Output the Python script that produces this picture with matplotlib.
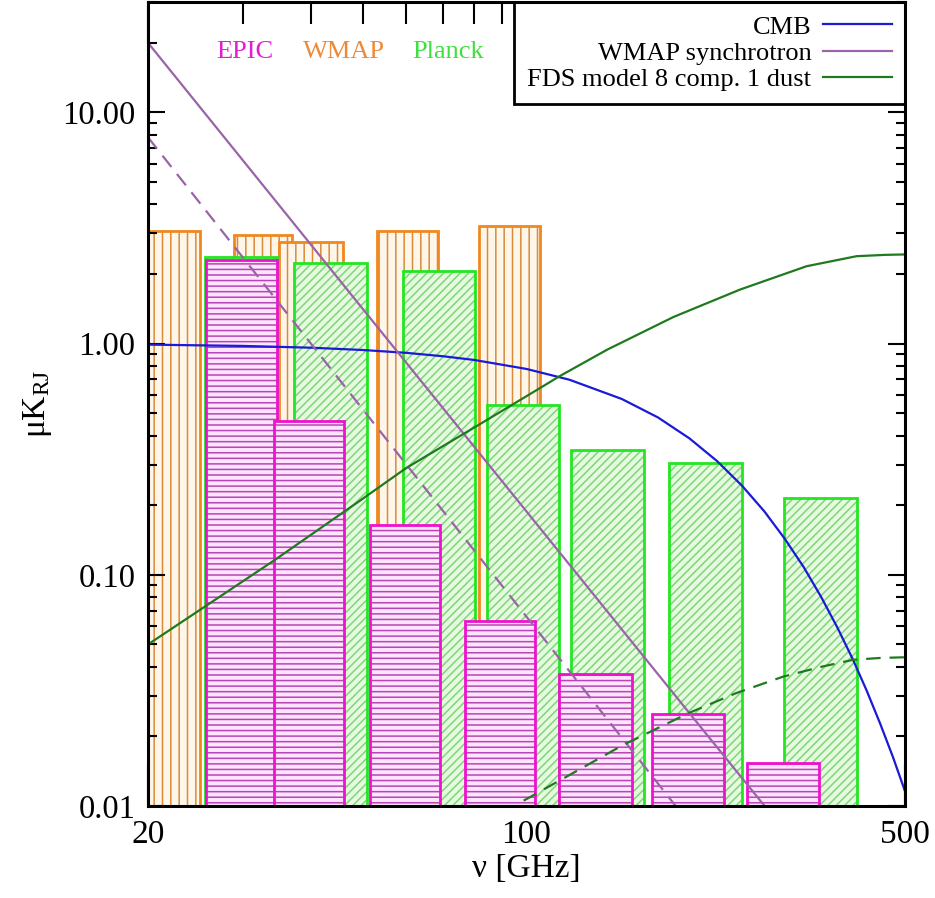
import matplotlib
matplotlib.use("Agg")
import matplotlib.pyplot as plt
from matplotlib.ticker import FixedLocator, FixedFormatter, LogLocator, FuncFormatter, NullFormatter

plt.rcParams['font.family'] = ['Liberation Serif', 'DejaVu Serif']
plt.rcParams['mathtext.fontset'] = 'custom'
plt.rcParams['mathtext.rm'] = 'Liberation Serif'
plt.rcParams['mathtext.it'] = 'Liberation Serif:italic'
plt.rcParams['hatch.linewidth'] = 1.1

# --- band data (GHz edges, uK_RJ levels) ---
wmap_lo = [19.5, 28.8, 34.9, 53.0, 81.7]
wmap_hi = [24.9, 36.9, 45.8, 68.7, 106.0]
wmap_val = [3.08, 2.96, 2.75, 3.08, 3.24]

planck_lo = [25.5, 37.2, 59.1, 84.5, 120.8, 183.4, 298.9]
planck_hi = [34.6, 50.7, 80.4, 114.8, 164.8, 249.8, 407.0]
planck_val = [2.36, 2.24, 2.07, 0.544, 0.345, 0.306, 0.215]

epic_lo = [25.6, 34.2, 51.4, 77.0, 115.0, 170.3, 255.0]
epic_hi = [34.6, 46.0, 69.2, 103.7, 156.8, 231.6, 347.4]
epic_val = [2.29, 0.461, 0.165, 0.0632, 0.0372, 0.0249, 0.0153]

# --- foreground / CMB curves ---
cmb_freq = [20, 30, 40, 50, 60, 70, 80, 100, 120, 150, 175, 200, 225, 250, 275,
            300, 325, 350, 375, 400, 425, 450, 475, 500]
cmb_val = [0.990, 0.977, 0.960, 0.938, 0.912, 0.882, 0.850, 0.777, 0.698, 0.576,
           0.479, 0.389, 0.310, 0.243, 0.188, 0.143, 0.108, 0.0803, 0.0592,
           0.0434, 0.0315, 0.0227, 0.0163, 0.0116]

sync_freq = [20, 50, 100, 200, 300]
sync_val = [20.0, 1.40, 0.188, 0.0252, 0.0078]
sync_pol_freq = [20, 50, 100, 200]
sync_pol_val = [7.8, 0.515, 0.0659, 0.0084]

dust_freq = [20, 25.5, 34.3, 49.5, 60, 80, 106, 115, 141, 187, 248, 329, 407, 460, 500]
dust_val = [0.050, 0.073, 0.116, 0.211, 0.290, 0.433, 0.643, 0.722, 0.942, 1.305,
            1.713, 2.161, 2.388, 2.42, 2.43]
dust_pol_freq = [85, 97, 151, 199, 244, 298, 350, 401, 450, 500]
dust_pol_val = [0.0078, 0.0103, 0.0184, 0.0252, 0.0308, 0.0363, 0.0400, 0.0429,
                0.0437, 0.0440]

fig = plt.figure(figsize=(9.35, 8.98), dpi=100)
ax = fig.add_axes([0.1583, 0.1024, 0.8096, 0.8953])
ax.set_xscale('log')
ax.set_yscale('log')


def draw_bands(lo, hi, val, fill, hatch_col, edge_col, hatch, z):
    for a, b, v in zip(lo, hi, val):
        ax.bar(a, v - 1e-3, width=b - a, bottom=1e-3, align='edge',
               facecolor=fill, edgecolor=hatch_col, hatch=hatch,
               linewidth=0, zorder=z)
        ax.bar(a, v - 1e-3, width=b - a, bottom=1e-3, align='edge',
               facecolor='none', edgecolor=edge_col, linewidth=2.0, zorder=z)


draw_bands(wmap_lo, wmap_hi, wmap_val, '#fff6ea', '#d98a3a', '#f0881e', '||', 1)
draw_bands(planck_lo, planck_hi, planck_val, '#e6fadf', '#7fd67a', '#22e622', '////', 2)
draw_bands(epic_lo, epic_hi, epic_val, '#ffe3ff', '#b447b4', '#f010d0', '---', 3)

ax.plot(cmb_freq, cmb_val, color='#1a1ad8', lw=1.6, zorder=5, label='CMB')
ax.plot(sync_freq, sync_val, color='#9a64a8', lw=1.6, zorder=5, label='WMAP synchrotron')
ax.plot(sync_pol_freq, sync_pol_val, color='#9a64a8', lw=1.6, zorder=5,
        dashes=(6.5, 4))
ax.plot(dust_freq, dust_val, color='#1f7a1f', lw=1.6, zorder=5,
        label='FDS model 8 comp. 1 dust')
ax.plot(dust_pol_freq, dust_pol_val, color='#1f7a1f', lw=1.6, zorder=5,
        dashes=(6.5, 4))

ax.set_xlim(20, 500)
ax.set_ylim(0.01, 30)

ax.xaxis.set_major_locator(FixedLocator([20, 100, 500]))
ax.xaxis.set_major_formatter(FixedFormatter(['20', '100', '500']))
ax.xaxis.set_minor_locator(LogLocator(base=10, subs=[2, 3, 4, 5, 6, 7, 8, 9], numticks=20))
ax.xaxis.set_minor_formatter(NullFormatter())
ax.yaxis.set_major_locator(FixedLocator([0.01, 0.1, 1, 10]))
ax.yaxis.set_major_formatter(FuncFormatter(lambda v, p: '%.2f' % v))
ax.yaxis.set_minor_locator(LogLocator(base=10, subs=[2, 3, 4, 5, 6, 7, 8, 9], numticks=20))
ax.yaxis.set_minor_formatter(NullFormatter())

ax.tick_params(which='both', direction='in', top=True, right=True, width=1.5,
               colors='black')
ax.tick_params(axis='x', which='major', length=30, labelsize=24, pad=10)
ax.tick_params(axis='x', which='minor', length=16)
ax.tick_params(axis='y', which='major', length=12, labelsize=23.5, pad=9)
ax.tick_params(axis='y', which='minor', length=6.5)
for s in ax.spines.values():
    s.set_linewidth(2.2)
    s.set_zorder(10)

ax.set_xlabel('ν [GHz]', fontsize=24, labelpad=2)
ax.set_ylabel(r'$\mathrm{μK_{RJ}}$', fontsize=24, labelpad=6)

ax.text(0.128, 0.938, 'EPIC', color='#e020d0', fontsize=19, ha='center',
        va='center', transform=ax.transAxes, zorder=6)
ax.text(0.2585, 0.938, 'WMAP', color='#ec8a38', fontsize=19, ha='center',
        va='center', transform=ax.transAxes, zorder=6)
ax.text(0.396, 0.938, 'Planck', color='#3ee03e', fontsize=19, ha='center',
        va='center', transform=ax.transAxes, zorder=6)

leg = ax.legend(loc='upper right', bbox_to_anchor=(1, 1), borderaxespad=0,
                fontsize=19, markerfirst=False, handlelength=2.6,
                handletextpad=0.45, labelspacing=0.1, borderpad=0.5,
                fancybox=False, framealpha=1, edgecolor='black')
leg.get_frame().set_linewidth(2)
leg.set_zorder(8)

fig.savefig('out.png', dpi=100)
